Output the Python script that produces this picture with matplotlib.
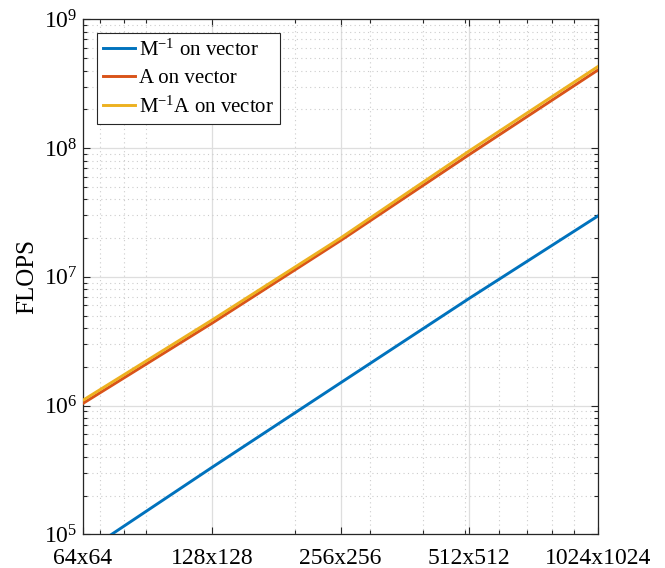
import numpy as np
import matplotlib
matplotlib.use("Agg")
import matplotlib.pyplot as plt
from matplotlib.ticker import FixedLocator, NullFormatter, LogLocator, LogFormatterSciNotation

plt.rcParams['font.family'] = ['Liberation Serif', 'DejaVu Serif']
plt.rcParams['mathtext.fontset'] = 'custom'
plt.rcParams['mathtext.rm'] = 'Liberation Serif'
plt.rcParams['mathtext.it'] = 'Liberation Serif:italic'
plt.rcParams['mathtext.bf'] = 'Liberation Serif:bold'

# grid size N (N x N)
grid_n = [64, 128, 256, 512, 1024]
tick_labels = ['64x64', '128x128', '256x256', '512x512', '1024x1024']

# FLOPS per series
minv_vec = [7.1e4, 3.3e5, 1.5e6, 6.8e6, 2.97e7]
a_vec = [1.04e6, 4.35e6, 1.91e7, 8.9e7, 4.04e8]
minv_a_vec = [1.10e6, 4.6e6, 2.0e7, 9.5e7, 4.3e8]

labels = ['M$^{-1}$ on vector', 'A on vector', 'M$^{-1}$A on vector']
colors = ['#0072BD', '#D95319', '#EDB120']

fig = plt.figure(figsize=(6.65, 5.68), dpi=100)
ax = fig.add_axes([83 / 665, 1 - 534.3 / 568, (598 - 83) / 665, (534.3 - 19.3) / 568])

for ys, lab, c in zip([minv_vec, a_vec, minv_a_vec], labels, colors):
    ax.plot(grid_n, ys, color=c, linewidth=2.1, label=lab, zorder=3)

ax.set_xscale('log')
ax.set_yscale('log')
ax.set_xlim(64, 1024)
ax.set_ylim(1e5, 1e9)

ax.xaxis.set_major_locator(FixedLocator(grid_n))
ax.set_xticklabels(tick_labels)
ax.xaxis.set_minor_locator(FixedLocator([70, 80, 90, 200, 300, 400, 500, 600, 700, 800, 900]))
ax.xaxis.set_minor_formatter(NullFormatter())

ax.yaxis.set_major_locator(LogLocator(base=10, numticks=10))
ax.yaxis.set_major_formatter(LogFormatterSciNotation())
ax.yaxis.set_minor_locator(LogLocator(base=10, subs=np.arange(2, 10), numticks=20))
ax.yaxis.set_minor_formatter(NullFormatter())

ax.grid(True, which='major', color='#dedede', linestyle='-', linewidth=0.9, zorder=0)
ax.grid(True, which='minor', color='#cccccc', linestyle=(0, (1, 3)), linewidth=0.8, zorder=0)
ax.set_axisbelow(True)

ax.tick_params(which='both', direction='in', top=True, right=True, colors='#262626',
               labelcolor='black', labelsize=17, width=0.8)
ax.tick_params(which='major', length=5)
ax.tick_params(which='minor', length=3)
ax.tick_params(axis='x', which='major', pad=10)
ax.tick_params(axis='y', which='major', pad=4)
for s in ax.spines.values():
    s.set_color('#262626')
    s.set_linewidth(0.9)

ax.set_ylabel('FLOPS', fontsize=18, labelpad=4)

leg = ax.legend(loc='upper left', bbox_to_anchor=(14 / 515, 1 - 14 / 515), borderaxespad=0,
                fontsize=15, frameon=True, fancybox=False, framealpha=1, edgecolor='#262626',
                handlelength=1.5, handletextpad=0.2, labelspacing=0.38, borderpad=0.3)
leg.get_frame().set_linewidth(0.8)

fig.savefig('out.png', dpi=100)
